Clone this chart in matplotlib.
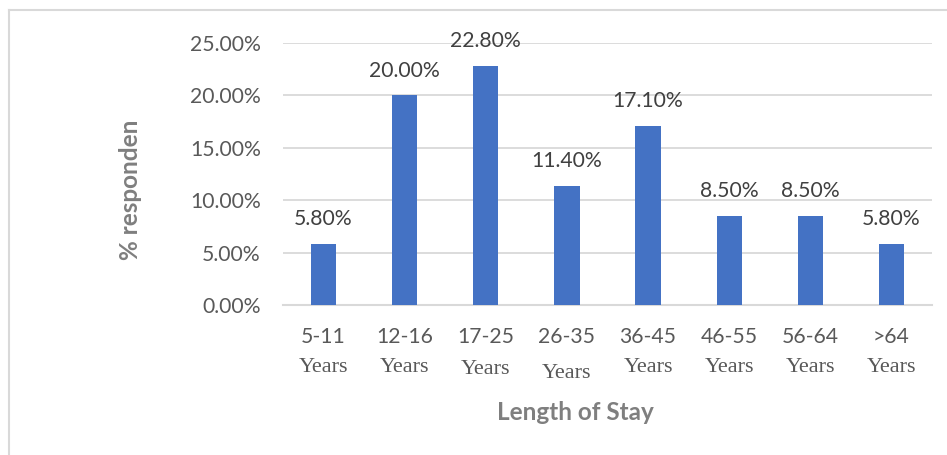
import matplotlib
matplotlib.use("Agg")
import matplotlib.pyplot as plt
from matplotlib.transforms import blended_transform_factory
from matplotlib.lines import Line2D

ranges = ["5-11", "12-16", "17-25", "26-35", "36-45", "46-55", "56-64", ">64"]
unit = "Years"
shares = [5.8, 20.0, 22.8, 11.4, 17.1, 8.5, 8.5, 5.8]
yticks = [0, 5, 10, 15, 20, 25]

# small per-label vertical nudges (pixels) for the second line of each tick label
years_dy = [0, 0, 2, 5, 0, 0, 0, 0]

W, H, DPI = 947, 455, 100
fig = plt.figure(figsize=(W / DPI, H / DPI), dpi=DPI)
ax = fig.add_axes([283 / W, 1 - 305 / H, (932 - 283) / W, (305 - 43) / H])

sans = ["Lato", "DejaVu Sans"]
serif = ["Liberation Serif", "DejaVu Serif"]
txt = "#595959"
grid = "#d9d9d9"
blue = "#4472c4"
fs = 15.2

x = list(range(len(ranges)))
ax.bar(x, shares, width=0.31, color=blue, zorder=3)
ax.set_xlim(-0.5, len(ranges) - 0.5)
ax.set_ylim(0, 25)
ax.set_yticks(yticks)
ax.set_yticklabels([f"{v:.2f}%" for v in yticks], fontfamily=sans, fontsize=fs, color=txt)
ax.tick_params(axis="y", length=0, pad=16)
ax.set_xticks([])
ax.grid(axis="y", color=grid, linewidth=1.3, zorder=0)
for s in ["top", "right", "left"]:
    ax.spines[s].set_visible(False)
ax.spines["bottom"].set_color(grid)
ax.spines["bottom"].set_linewidth(1.5)

for xi, v in zip(x, shares):
    ax.annotate(f"{v:.2f}%", (xi, v), xytext=(0, 13.5), textcoords="offset points",
                ha="center", va="baseline", fontfamily=sans, fontsize=fs, color="#404040")

tr = blended_transform_factory(ax.transData, fig.transFigure)
for xi, lab, dy in zip(x, ranges, years_dy):
    ax.text(xi, 1 - 337 / H, lab, transform=tr, ha="center", va="center",
            fontfamily=sans, fontsize=fs, color=txt)
    ax.text(xi, 1 - (368 + dy) / H, unit, transform=tr, ha="center", va="center",
            fontfamily=serif, fontsize=16, color=txt)

fig.text(575 / W, 1 - 413 / H, "Length of Stay", ha="center", va="center",
         fontfamily=sans, fontsize=17.5, fontweight="bold", color="#7f7f7f")
fig.text(131 / W, 1 - 190 / H, "% responden", ha="center", va="center", rotation=90,
         fontfamily=sans, fontsize=17.5, fontweight="bold", color="#7f7f7f")

# outer chart frame (top and left edges)
fig.add_artist(Line2D([9 / W, 9 / W], [0, 1 - 10 / H], color=grid, linewidth=1.5))
fig.add_artist(Line2D([9 / W, 1], [1 - 10 / H, 1 - 10 / H], color=grid, linewidth=1.5))

fig.savefig("out.png", dpi=DPI)
